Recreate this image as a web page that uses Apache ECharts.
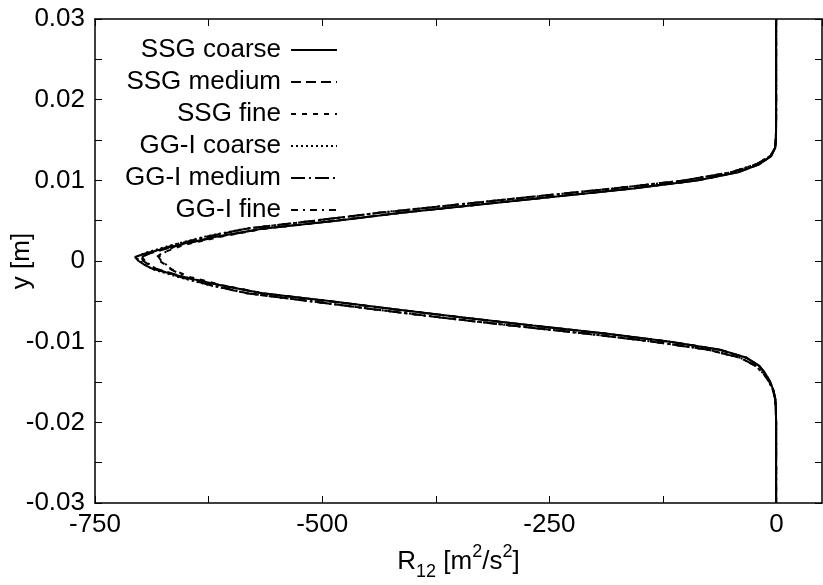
<!DOCTYPE html>
<html><head><meta charset="utf-8">
<script src="https://cdn.jsdelivr.net/npm/echarts@6/dist/echarts.min.js"></script>
<style>html,body{margin:0;padding:0;background:#fff}#c{width:823px;height:585px}</style>
</head><body><div id="c"></div>
<script>
const yVals = [0.03, 0.025, 0.02, 0.018, 0.016, 0.015, 0.014, 0.013, 0.012, 0.011, 0.01, 0.009, 0.008, 0.007, 0.006, 0.005, 0.004, 0.003, 0.002, 0.001, 0.0005, 0, -0.0005, -0.001, -0.002, -0.003, -0.004, -0.005, -0.006, -0.007, -0.008, -0.009, -0.01, -0.011, -0.012, -0.013, -0.014, -0.015, -0.016, -0.017, -0.018, -0.02, -0.025, -0.03];

const ssgCoarse = [-0.5, -0.5, -0.5, -0.5, -0.6, -0.8, -1.5, -6, -19, -42, -86, -157, -242, -326, -410, -484, -566, -617, -658, -693, -706, -702, -695, -686, -652, -612, -566, -490, -418, -345, -268, -188, -117, -62, -33, -19, -12, -7, -3.5, -1.5, -0.8, -0.5, -0.5, -0.5];
const ssgMedium = [-0.5, -0.5, -0.5, -0.5, -0.6, -0.8, -1.6, -6, -19, -43, -87, -158, -243, -327, -411, -485, -565, -615, -656, -688, -699, -697, -690, -682, -651, -612, -566, -491, -419, -346, -269, -189, -118, -63, -33, -19, -12, -7, -3.5, -1.5, -0.8, -0.5, -0.5, -0.5];
const ssgFine = [-0.5, -0.5, -0.5, -0.5, -0.6, -0.8, -1.6, -6, -19, -43, -87, -158, -243, -327, -411, -485, -564, -612, -652, -676, -682, -679, -672, -666, -645, -610, -565, -491, -419, -346, -269, -189, -118, -63, -33, -19, -12, -7, -3.5, -1.5, -0.8, -0.5, -0.5, -0.5];
const ggCoarse = [-0.5, -0.5, -0.5, -0.5, -0.6, -0.9, -1.8, -7, -22, -50, -100, -178, -265, -350, -435, -508, -585, -630, -665, -695, -705, -701, -694, -687, -658, -624, -583, -512, -442, -370, -292, -210, -136, -75, -40, -23, -14, -8, -4, -1.8, -0.9, -0.5, -0.5, -0.5];
const ggMedium = [-0.5, -0.5, -0.5, -0.5, -0.6, -0.9, -1.8, -7, -22, -50, -101, -179, -266, -351, -436, -509, -584, -628, -663, -690, -698, -695, -689, -683, -656, -623, -583, -512, -442, -370, -292, -210, -136, -75, -40, -23, -14, -8, -4, -1.8, -0.9, -0.5, -0.5, -0.5];
const ggFine = [-0.5, -0.5, -0.5, -0.5, -0.6, -0.9, -1.8, -7, -22, -50, -101, -179, -266, -351, -436, -509, -583, -626, -660, -674, -680, -677, -671, -667, -650, -620, -582, -512, -442, -370, -292, -210, -136, -75, -40, -23, -14, -8, -4, -1.8, -0.9, -0.5, -0.5, -0.5];

const seriesNames = ['SSG coarse', 'SSG medium', 'SSG fine', 'GG-I coarse', 'GG-I medium', 'GG-I fine'];
const seriesValues = [ssgCoarse, ssgMedium, ssgFine, ggCoarse, ggMedium, ggFine];
const xTickLabels = [-750, -500, -250, 0];
const yTickLabels = [-0.03, -0.02, -0.01, 0, 0.01, 0.02, 0.03];

const FONT = "'Liberation Sans', Arial, sans-serif";
const FS = 26;
const dashStyles = ['solid', [10, 5], [5, 6], [2, 3], [14, 4, 2, 4], [7, 5, 2, 5]];

const chart = echarts.init(document.getElementById('c'), null, {renderer: 'canvas'});

function xFmt(v) {
  return xTickLabels.some(t => Math.abs(t - v) < 1e-6) ? String(v) : '';
}
function yFmt(v) {
  const hit = yTickLabels.find(t => Math.abs(t - v) < 1e-9);
  return hit === undefined ? '' : String(+hit.toFixed(3));
}

const axisCommonX = {
  type: 'value', min: -750, max: 50, interval: 125,
  axisLine: {show: true, onZero: false, lineStyle: {color: '#000', width: 1.5}},
  axisTick: {show: true, inside: true, length: 7, lineStyle: {color: '#000', width: 1}},
  splitLine: {show: false}
};
const axisCommonY = {
  type: 'value', min: -0.03, max: 0.03, interval: 0.005,
  axisLine: {show: true, onZero: false, lineStyle: {color: '#000', width: 1.5}},
  axisTick: {show: true, inside: true, length: 7, lineStyle: {color: '#000', width: 1}},
  splitLine: {show: false}
};

const option = {
  animation: false,
  backgroundColor: '#fff',
  textStyle: {fontFamily: FONT, color: '#000'},
  grid: {left: 95, right: 1, top: 19, bottom: 82, containLabel: false, outerBoundsMode: 'none'},
  legend: {
    orient: 'vertical', align: 'right', right: 480, top: 31,
    itemWidth: 46, itemHeight: 14, itemGap: 4,
    selectedMode: false,
    itemStyle: {color: 'rgba(0,0,0,0)', borderColor: 'rgba(0,0,0,0)', borderWidth: 0, opacity: 0},
    textStyle: {fontFamily: FONT, fontSize: FS, color: '#000', lineHeight: 28, padding: [0, 5, 0, 0]},
    data: seriesNames
  },
  xAxis: [
    Object.assign({}, axisCommonX, {
      position: 'bottom',
      axisLabel: {show: true, formatter: xFmt, fontSize: FS, fontFamily: FONT, color: '#000', margin: 9, showMaxLabel: false},
      name: '{a|R}{sub|12}{a| [m}{sup|2}{a|/s}{sup|2}{a|]}',
      nameLocation: 'middle', nameGap: 40, nameMoveOverlap: false,
      nameTextStyle: {
        fontFamily: FONT, color: '#000',
        rich: {
          a: {fontSize: FS, fontFamily: FONT, color: '#000', lineHeight: 38, verticalAlign: 'middle'},
          sub: {fontSize: 18, fontFamily: FONT, color: '#000', lineHeight: 38, verticalAlign: 'bottom'},
          sup: {fontSize: 18, fontFamily: FONT, color: '#000', lineHeight: 38, verticalAlign: 'top'}
        }
      }
    }),
    Object.assign({}, axisCommonX, {position: 'top', axisLabel: {show: false}})
  ],
  yAxis: [
    Object.assign({}, axisCommonY, {
      position: 'left',
      axisLabel: {show: true, formatter: yFmt, fontSize: FS, fontFamily: FONT, color: '#000', margin: 10},
      name: 'y [m]', nameLocation: 'middle', nameGap: 60, nameRotate: 90, nameMoveOverlap: false,
      nameTextStyle: {fontSize: FS, fontFamily: FONT, color: '#000'}
    }),
    Object.assign({}, axisCommonY, {position: 'right', axisLabel: {show: false}})
  ],
  series: seriesNames.map((name, i) => ({
    name: name,
    type: 'line',
    xAxisIndex: 0, yAxisIndex: 0,
    showSymbol: false, symbol: 'none',
    smooth: false,
    lineStyle: {color: '#000', width: 2, type: dashStyles[i]},
    itemStyle: {color: '#000'},
    data: yVals.map((y, k) => [seriesValues[i][k], y])
  }))
};
chart.setOption(option);
</script>
</body></html>
